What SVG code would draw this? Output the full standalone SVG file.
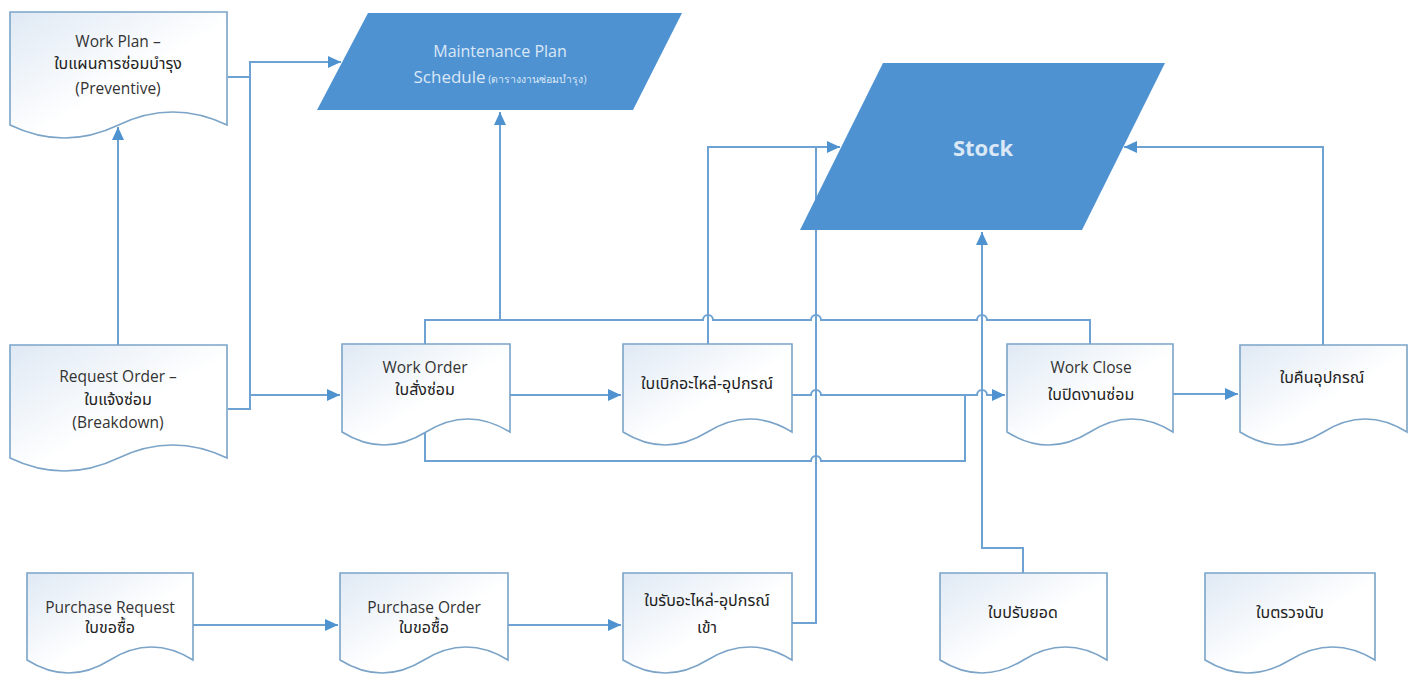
<svg xmlns="http://www.w3.org/2000/svg" width="1415" height="676" viewBox="0 0 1415 676">
<defs>
<linearGradient id="docfill" x1="0" y1="0" x2="1" y2="1">
<stop offset="0" stop-color="#dfe9f4"/>
<stop offset="0.55" stop-color="#ffffff"/>
<stop offset="1" stop-color="#ffffff"/>
</linearGradient>
<marker id="arr" markerUnits="userSpaceOnUse" markerWidth="14" markerHeight="12" refX="13" refY="6" orient="auto">
<path d="M0,0 L13,6 L0,12 z" fill="#4e92d0"/>
</marker>
</defs>
<style>
.doc{fill:url(#docfill);stroke:#7ba4c8;stroke-width:1.6}
.io{fill:#4e92d2;stroke:none}
.t{font-family:"Open Sans","Noto Sans","Noto Sans Thai","DejaVu Sans",sans-serif;font-size:15.5px;fill:#333333;text-anchor:middle}
.th{font-family:"Noto Sans Thai","Noto Sans","Open Sans","DejaVu Sans",sans-serif;font-size:16px;fill:#222222;text-anchor:middle}
.w{font-family:"Open Sans","Noto Sans",sans-serif;fill:#dbe8f6;text-anchor:middle}
.c{fill:none;stroke:#6ea2d2;stroke-width:2}
.a{marker-end:url(#arr)}
</style>
<rect width="1415" height="676" fill="#ffffff"/>

<g id="connectors">
<path class="c a" d="M228,77 H250 V62 H341"/>
<path class="c" d="M228,409 H250 V62"/>
<path class="c a" d="M250,395 H340"/>
<path class="c a" d="M118,345 V127"/>
<path class="c" d="M425,344 V320 H500"/>
<path class="c a" d="M500,320 V112"/>
<path class="c" d="M500,320 H703 A5,5 0 0 1 713,320 H811 A5,5 0 0 1 821,320 H977 A5,5 0 0 1 987,320 H1090 V344"/>
<path class="c a" d="M510,395 H621"/>
<path class="c a" d="M708,344 V147 H840"/>
<path class="c a" d="M792,395 H811 A5,5 0 0 1 821,395 H977 A5,5 0 0 1 987,395 H1005"/>
<path class="c" d="M425,433 V461 H811 A5,5 0 0 1 821,461 H965 V395"/>
<path class="c a" d="M1173,394 H1238"/>
<path class="c a" d="M1323,345 V147 H1124"/>
<path class="c a" d="M193,625 H338"/>
<path class="c a" d="M508,625 H621"/>
<path class="c" d="M792,623 H816 V147"/>
<path class="c a" d="M1023,573 V548 H982 V232"/>
</g>

<g id="maintenance-plan">
<polygon class="io" points="368,13 682,13 633,110 317,110"/>
<text class="w" x="500" y="57" font-size="16">Maintenance Plan</text>
<text class="w" x="500" y="83"><tspan font-size="17">Schedule</tspan><tspan font-size="10.5"> (ตารางงานซ่อมบำรุง)</tspan></text>
</g>

<g id="stock">
<polygon class="io" points="883,63 1165,63 1082,230 800,230"/>
<text class="w" x="983" y="156" font-size="22" font-weight="bold" fill="#f2f7fc">Stock</text>
</g>

<g id="work-plan">
<path class="doc" d="M10,12 H227 V125 Q172.75,99 118.5,125 T10,125 Z"/>
<text class="t" x="118" y="47">Work Plan –</text>
<text class="th" x="118" y="69">ใบแผนการซ่อมบำรุง</text>
<text class="t" x="118" y="94">(Preventive)</text>
</g>

<g id="request-order">
<path class="doc" d="M10,345 H227 V458 Q172.75,432 118.5,458 T10,458 Z"/>
<text class="t" x="118" y="382">Request Order –</text>
<text class="th" x="118" y="405">ใบแจ้งซ่อม</text>
<text class="t" x="118" y="428">(Breakdown)</text>
</g>

<g id="work-order">
<path class="doc" d="M342,344 H510 V432 Q468,406 426,432 T342,432 Z"/>
<text class="t" x="425" y="373">Work Order</text>
<text class="th" x="425" y="395">ใบสั่งซ่อม</text>
</g>

<g id="issue-parts">
<path class="doc" d="M623,344 H792 V432 Q749.75,406 707.5,432 T623,432 Z"/>
<text class="th" x="707" y="389">ใบเบิกอะไหล่-อุปกรณ์</text>
</g>

<g id="work-close">
<path class="doc" d="M1007,344 H1173 V432 Q1131.5,406 1090,432 T1007,432 Z"/>
<text class="t" x="1091" y="373">Work Close</text>
<text class="th" x="1091" y="400">ใบปิดงานซ่อม</text>
</g>

<g id="return-parts">
<path class="doc" d="M1240,345 H1407 V432 Q1365.25,406 1323.5,432 T1240,432 Z"/>
<text class="th" x="1322" y="383">ใบคืนอุปกรณ์</text>
</g>

<g id="purchase-request">
<path class="doc" d="M27,573 H193 V660 Q151.5,634 110,660 T27,660 Z"/>
<text class="t" x="110" y="613">Purchase Request</text>
<text class="th" x="110" y="633">ใบขอซื้อ</text>
</g>

<g id="purchase-order">
<path class="doc" d="M340,573 H508 V660 Q466,634 424,660 T340,660 Z"/>
<text class="t" x="424" y="613">Purchase Order</text>
<text class="th" x="424" y="633">ใบขอซื้อ</text>
</g>

<g id="receive-parts">
<path class="doc" d="M623,573 H792 V660 Q749.75,634 707.5,660 T623,660 Z"/>
<text class="th" x="707" y="606">ใบรับอะไหล่-อุปกรณ์</text>
<text class="th" x="707" y="633">เข้า</text>
</g>

<g id="adjust-balance">
<path class="doc" d="M940,573 H1107 V660 Q1065.25,634 1023.5,660 T940,660 Z"/>
<text class="th" x="1023" y="618">ใบปรับยอด</text>
</g>

<g id="stock-count">
<path class="doc" d="M1205,573 H1375 V660 Q1332.5,634 1290,660 T1205,660 Z"/>
<text class="th" x="1290" y="618">ใบตรวจนับ</text>
</g>
</svg>
